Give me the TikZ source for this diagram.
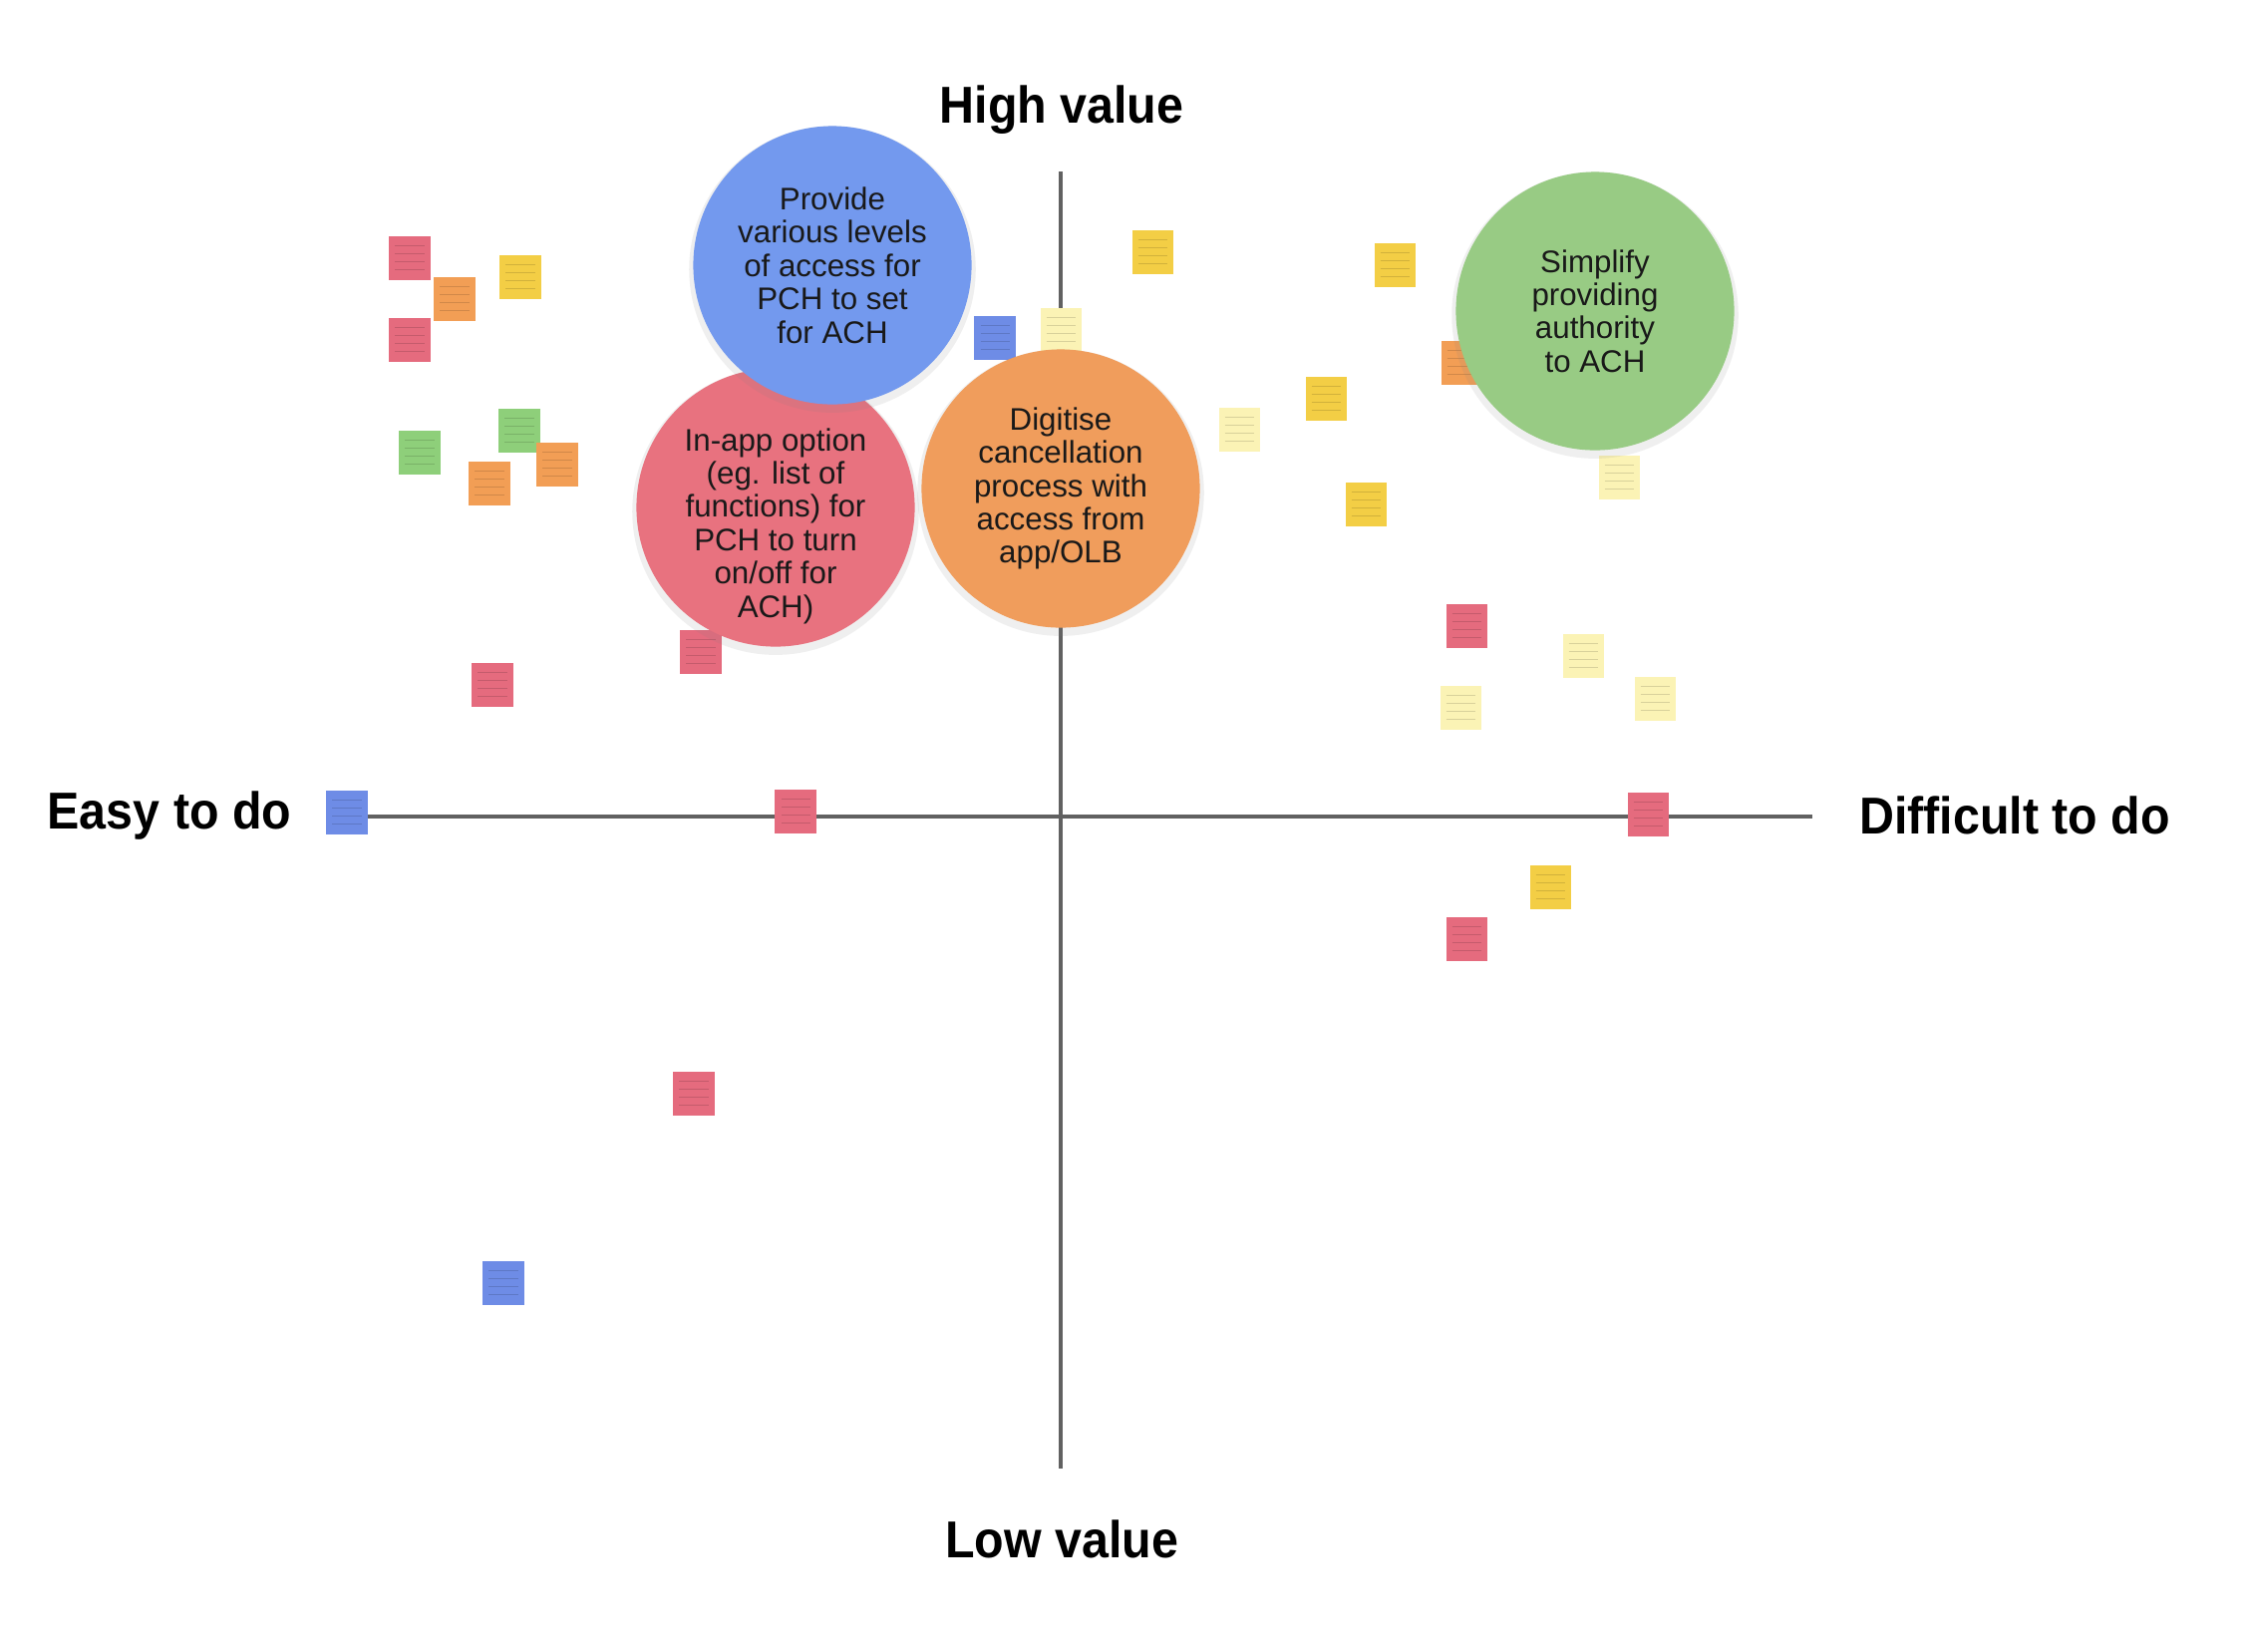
\documentclass[tikz,border=0pt]{standalone}
\usepackage{fontspec}
\setmainfont{Liberation Sans}
\newfontfamily\axisfont[FakeStretch=0.93]{Liberation Sans Bold}
\usetikzlibrary{calc,shadows}

\definecolor{notered}{HTML}{E56B7E}
\definecolor{noteorange}{HTML}{F29E55}
\definecolor{noteyellow}{HTML}{F3CE45}
\definecolor{notepale}{HTML}{FBF3B5}
\definecolor{notegreen}{HTML}{8ECF7A}
\definecolor{noteblue}{HTML}{6E8CE6}
\definecolor{accessblue}{HTML}{7399EE}
\definecolor{inappred}{HTML}{E8727F}
\definecolor{digitiseorange}{HTML}{F09D5C}
\definecolor{simplifygreen}{HTML}{98CB84}

\begin{document}
\begin{tikzpicture}[
		x=0.01cm, y=-0.01cm,
		axis/.style={draw=black!62, line width=1.2pt},
		axislabel/.style={font=\axisfont\fontsize{14.8}{16}\selectfont, inner sep=1pt},
		idea/.style={circle, fill=#1, minimum size=2.79cm, inner sep=0pt, align=center,
			font=\fontsize{8.9}{9.5}\selectfont, text=black!90,
			drop shadow={opacity=0.12, shadow xshift=0pt, shadow yshift=-0.04cm, shadow scale=1.03}},
		sticky/.style={fill=#1, minimum width=0.41cm, minimum height=0.44cm, inner sep=0pt,
			path picture={
				\foreach \k in {0.22,0.4,0.58,0.76}
				\draw[#1!60!black, opacity=0.35, line width=0.3pt]
				($(path picture bounding box.north west)!\k!(path picture bounding box.south west)+(0.06cm,0)$) -- ++(0.29cm,0);
			}}
		]
		
		\useasboundingbox[fill=white] (0,0) rectangle (2254,1656);
		
		% -------------------------------------------------
		% Axes
		% -------------------------------------------------
		\coordinate (vtop) at (1064,172);
		\coordinate (vbot) at (1064,1473);
		\coordinate (hleft) at (367,819);
		\coordinate (hright) at (1818,819);
		\draw[axis, line width=1pt] (vtop) -- (vbot);
		\draw[axis] (hleft) -- (hright);
		
		\node[axislabel] (high) at (1065,110) {High value};
		\node[axislabel] (low) at (1065,1544) {Low value};
		\node[axislabel] (easy) at (170,818) {Easy to do};
		\node[axislabel] (hard) at (2021,818) {Difficult to do};
		
		% -------------------------------------------------
		% Sticky notes
		% -------------------------------------------------
		\foreach \px/\py/\c [count=\i] in {
			411/259/notered, 456/300/noteorange, 522/278/noteyellow, 411/341/notered,
			421/454/notegreen, 521/432/notegreen, 491/485/noteorange, 559/466/noteorange,
			494/687/notered, 703/654/notered, 348/815/noteblue, 798/814/notered,
			696/1097/notered, 505/1287/noteblue,
			998/339/noteblue, 1064/331/notepale, 1156/253/noteyellow,
			1399/266/noteyellow, 1466/364/noteorange, 1330/400/noteyellow, 1243/431/notepale,
			1370/506/noteyellow, 1624/479/notepale, 1471/628/notered, 1588/658/notepale,
			1465/710/notepale, 1660/701/notepale, 1653/817/notered, 1555/890/noteyellow,
			1471/942/notered}
		\node[sticky=\c] (n\i) at (\px,\py) {};
		
		% -------------------------------------------------
		% Ideas
		% -------------------------------------------------
		\node[idea=inappred, inner sep=-8pt] (inapp) at (778,509) {\rule{0pt}{17pt}In-app option\\(eg. list of\\functions) for\\PCH to turn\\on/off for\\ACH)};
		\node[idea=accessblue] (access) at (835,266) {Provide\\various levels\\of access for\\PCH to set\\for ACH};
		\node[idea=digitiseorange] (digitise) at (1064,490) {Digitise\\cancellation\\process with\\access from\\app/OLB};
		\node[idea=simplifygreen] (simplify) at (1600,312) {Simplify\\providing\\authority\\to ACH};
		
	\end{tikzpicture}
\end{document}
